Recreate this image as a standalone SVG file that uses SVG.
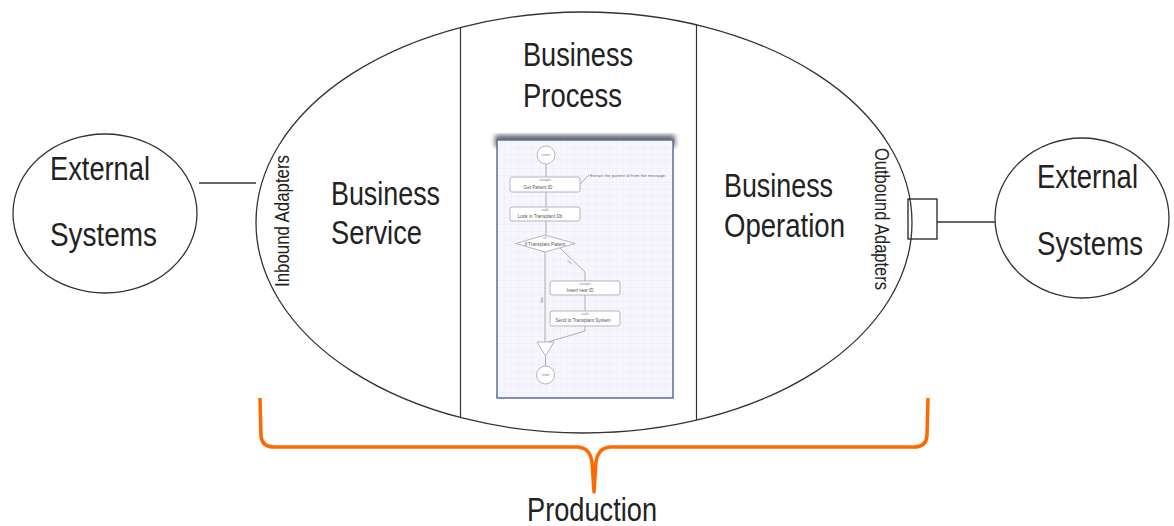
<svg xmlns="http://www.w3.org/2000/svg" width="1174" height="526" viewBox="0 0 1174 526">
  <style>
    .lbl { font-family: "Liberation Sans Narrow", "Liberation Sans", Arial, sans-serif; font-size: 33px; fill: #222; }
    .vlbl { font-family: "Liberation Sans Narrow", "Liberation Sans", Arial, sans-serif; font-size: 20px; fill: #222; text-anchor: middle; }
    .shape { fill: #fff; stroke: #333; stroke-width: 1.3; }
    .conn { fill: none; stroke: #333; stroke-width: 1.5; }
    .div { stroke: #333; stroke-width: 1.2; }
    .bpl { fill: #fff; stroke: #9ea3bb; stroke-width: 0.8; }
    .bline { fill: none; stroke: #a6a6a6; stroke-width: 0.9; }
    .tiny { font-family: "Liberation Sans", Arial, sans-serif; font-size: 4.6px; fill: #555; text-anchor: middle; }
    .micro { font-family: "Liberation Sans", Arial, sans-serif; font-size: 3px; fill: #778; text-anchor: middle; }
  </style>
  <defs>
    <pattern id="grid" width="7" height="7" patternUnits="userSpaceOnUse" x="497" y="140">
      <path d="M7 0 L0 0 L0 7" fill="none" stroke="#e1e3f0" stroke-width="0.6"/>
    </pattern>
    <filter id="shadow" x="-10%" y="-10%" width="120%" height="120%">
      <feGaussianBlur stdDeviation="2.5"/>
    </filter>
  </defs>
  <rect width="1174" height="526" fill="#fff"/>

  <g id="production">
    <ellipse class="shape" cx="584" cy="222.5" rx="328" ry="210.5"/>
    <line class="div" x1="460.5" y1="27" x2="460.5" y2="418"/>
    <line class="div" x1="696.5" y1="25" x2="696.5" y2="420"/>
  </g>

  <g id="external-left">
    <ellipse class="shape" cx="105" cy="213.5" rx="92" ry="79.5"/>
    <text class="lbl" x="50" y="180" textLength="100" lengthAdjust="spacingAndGlyphs">External</text>
    <text class="lbl" x="50" y="246" textLength="107" lengthAdjust="spacingAndGlyphs">Systems</text>
  </g>

  <g id="external-right">
    <ellipse class="shape" cx="1082" cy="218" rx="87" ry="80"/>
    <text class="lbl" x="1037" y="188" textLength="101" lengthAdjust="spacingAndGlyphs">External</text>
    <text class="lbl" x="1037" y="255" textLength="106" lengthAdjust="spacingAndGlyphs">Systems</text>
  </g>

  <g id="inbound-adapters">
    <text class="vlbl" transform="translate(289 221) rotate(-90)" textLength="132" lengthAdjust="spacingAndGlyphs">Inbound Adapters</text>
  </g>

  <g id="outbound-adapters">
    <rect x="908" y="199" width="29" height="40" fill="none" stroke="#222" stroke-width="1.3"/>
    <text class="vlbl" transform="translate(875 219) rotate(90)" textLength="142" lengthAdjust="spacingAndGlyphs">Outbound Adapters</text>
  </g>

  <g id="business-service">
    <text class="lbl" x="331" y="205" textLength="109" lengthAdjust="spacingAndGlyphs">Business</text>
    <text class="lbl" x="331" y="244" textLength="91" lengthAdjust="spacingAndGlyphs">Service</text>
  </g>

  <g id="business-process">
    <text class="lbl" x="523" y="66" textLength="110" lengthAdjust="spacingAndGlyphs">Business</text>
    <text class="lbl" x="523" y="107" textLength="99" lengthAdjust="spacingAndGlyphs">Process</text>
    <g id="bpl-screenshot">
      <rect x="495" y="135" width="180" height="12" fill="#666" filter="url(#shadow)"/>
      <rect x="497" y="140" width="176" height="258" fill="#f6f6fc"/>
      <rect x="497" y="140" width="176" height="258" fill="url(#grid)" stroke="#5b6d99" stroke-width="1.5"/>
      <path class="bline" d="M546 164 V177 M546 192 V207 M546 221 V235 M545 252 V342 M560 248 L585 272 V281 M585 295 V311 M585 326 V331 L548 342 M545.5 356 V366 M580 184 L589 175"/>
      <circle class="bpl" cx="546" cy="155" r="9"/>
      <text class="micro" x="546" y="156">&lt;start&gt;</text>
      <rect class="bpl" x="510" y="177" width="70" height="15" rx="2"/>
      <text class="micro" x="545" y="181">&lt;assign&gt;</text>
      <text class="tiny" x="538" y="188.5">Get Patient ID</text>
      <text style="font-family:'Liberation Sans',Arial,sans-serif;font-size:4px;fill:#666" x="590" y="176.5" textLength="75">Extract the patient id from the message</text>
      <rect class="bpl" x="510" y="207" width="70" height="14" rx="2"/>
      <text class="micro" x="545" y="210.5">&lt;call&gt;</text>
      <text class="tiny" x="540" y="217.5">Look in Transplant Db</text>
      <polygon class="bpl" points="545,235 575,243.5 545,252 516,243.5"/>
      <text class="micro" x="545" y="239">&lt;if&gt;</text>
      <text class="tiny" x="545" y="245.5">If Transplant Patient</text>
      <text class="micro" transform="translate(569 263) rotate(38)">true</text>
      <text class="micro" transform="translate(543 300) rotate(-90)">false</text>
      <rect class="bpl" x="550" y="281" width="70" height="14" rx="2"/>
      <text class="micro" x="585" y="284.5">&lt;assign&gt;</text>
      <text class="tiny" x="580" y="291.5">Insert new ID</text>
      <rect class="bpl" x="550" y="311" width="70" height="15" rx="2"/>
      <text class="micro" x="585" y="314.5">&lt;call&gt;</text>
      <text class="tiny" x="583" y="322">Send to Transplant System</text>
      <polygon class="bpl" points="537,342 554,342 545.5,356"/>
      <circle class="bpl" cx="545.5" cy="375" r="9"/>
      <text class="micro" x="545.5" y="376">&lt;end&gt;</text>
    </g>
  </g>

  <g id="business-operation">
    <text class="lbl" x="724" y="197" textLength="109" lengthAdjust="spacingAndGlyphs">Business</text>
    <text class="lbl" x="724" y="237" textLength="121" lengthAdjust="spacingAndGlyphs">Operation</text>
  </g>

  <g id="production-label">
    <path d="M260 398 L261 436 Q262 447 274 447 L578 447 Q590 448 592 462 L594 492 L596 462 Q598 448 610 447 L914 447 Q926 447 927 436 L928 398" fill="none" stroke="#ff6a00" stroke-width="3.5" stroke-linejoin="round"/>
    <text class="lbl" x="527" y="521" textLength="130" lengthAdjust="spacingAndGlyphs">Production</text>
  </g>

  <g id="connectors">
    <line class="conn" x1="199" y1="183" x2="256" y2="183"/>
    <line class="conn" x1="937" y1="222" x2="995" y2="222"/>
  </g>
</svg>
